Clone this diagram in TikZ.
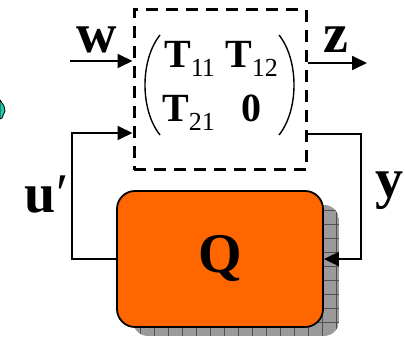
\documentclass[tikz,border=0pt]{standalone}
\usepackage{fontspec}
\setmainfont{Liberation Serif}
\usetikzlibrary{arrows.meta}

\definecolor{qorange}{HTML}{FF6600}
\definecolor{shadowgray}{HTML}{9A9A9A}
\definecolor{gridgray}{HTML}{505050}
\definecolor{tealbit}{HTML}{22CCAA}

\newcommand{\Tent}[1]{\textbf{T}{\fontsize{26}{30}\selectfont\raisebox{-9pt}{#1}}}

\begin{document}
\begin{tikzpicture}[x=1pt,y=-1pt,
  sig/.style={line width=1.8pt,-{Triangle[length=15pt,width=14pt]}},
  wire/.style={line width=1.8pt},
  biglabel/.style={font=\fontsize{56}{60}\selectfont\bfseries,inner sep=0pt,anchor=base west},
  entry/.style={font=\fontsize{40}{42}\selectfont,inner sep=0pt,anchor=base west}]

  \useasboundingbox (0,0) rectangle (405,339);

  % ====================================================
  % GENERALISED PLANT (dashed box with the matrix)
  % ====================================================
  \node[draw,line width=3pt,dash pattern=on 12pt off 8pt,
        minimum width=172pt,minimum height=160pt] (P) at (220,90) {};

  \node[entry] (T11) at (164,68) {\Tent{1\kern-2pt1}};
  \node[entry] (T12) at (225,68) {\Tent{12}};
  \node[entry] (T21) at (162,122) {\Tent{21}};
  \node[entry] (T22) at (241,122) {\textbf{0}};

  % brackets
  \draw[line width=1.4pt] (160,35) .. controls (140,60) and (140,110) .. (160,135);
  \draw[line width=1.4pt] (279,35) .. controls (299,60) and (299,110) .. (279,135);

  % ====================================================
  % CONTROLLER Q with hatched shadow
  % ====================================================
  \begin{scope}
    \clip[rounded corners=15pt] (133,205) rectangle (339,336);
    \fill[shadowgray] (133,205) rectangle (339,336);
    \draw[gridgray,line width=0.6pt,step=14pt] (133,205) grid (339,336);
  \end{scope}

  \node[draw,line width=1.8pt,fill=qorange,rounded corners=18pt,
        minimum width=206pt,minimum height=136pt,
        font=\fontsize{56}{60}\selectfont\bfseries] (Q) at (220,259) {Q};

  % ====================================================
  % SIGNALS
  % ====================================================
  \coordinate (win) at (70,61);
  \coordinate (zout) at (367,63);
  \coordinate (ucorner) at (72,133);
  \coordinate (ycorner) at (361,134);

  \draw[sig] (win) -- (P.west |- win);
  \draw[sig] (P.east |- zout) -- (zout);
  \draw[sig] (Q.west) -| (ucorner) -- (P.west |- ucorner);
  \draw[sig] (P.east |- ycorner) -- (ycorner) |- (Q.east);

  \node[biglabel] (w) at (76,53) {w};
  \node[biglabel] (z) at (323,53) {z};
  \node[biglabel] (u) at (24,213) {u\kern1pt{\mdseries ′}};
  \node[biglabel] (y) at (375,198) {y};

  % cut-off piece at the left edge
  \filldraw[fill=tealbit,draw=black,line width=0.8pt]
    (0,100) -- (4,106) -- (5,111) -- (2,118) -- (0,119) -- cycle;
\end{tikzpicture}
\end{document}
